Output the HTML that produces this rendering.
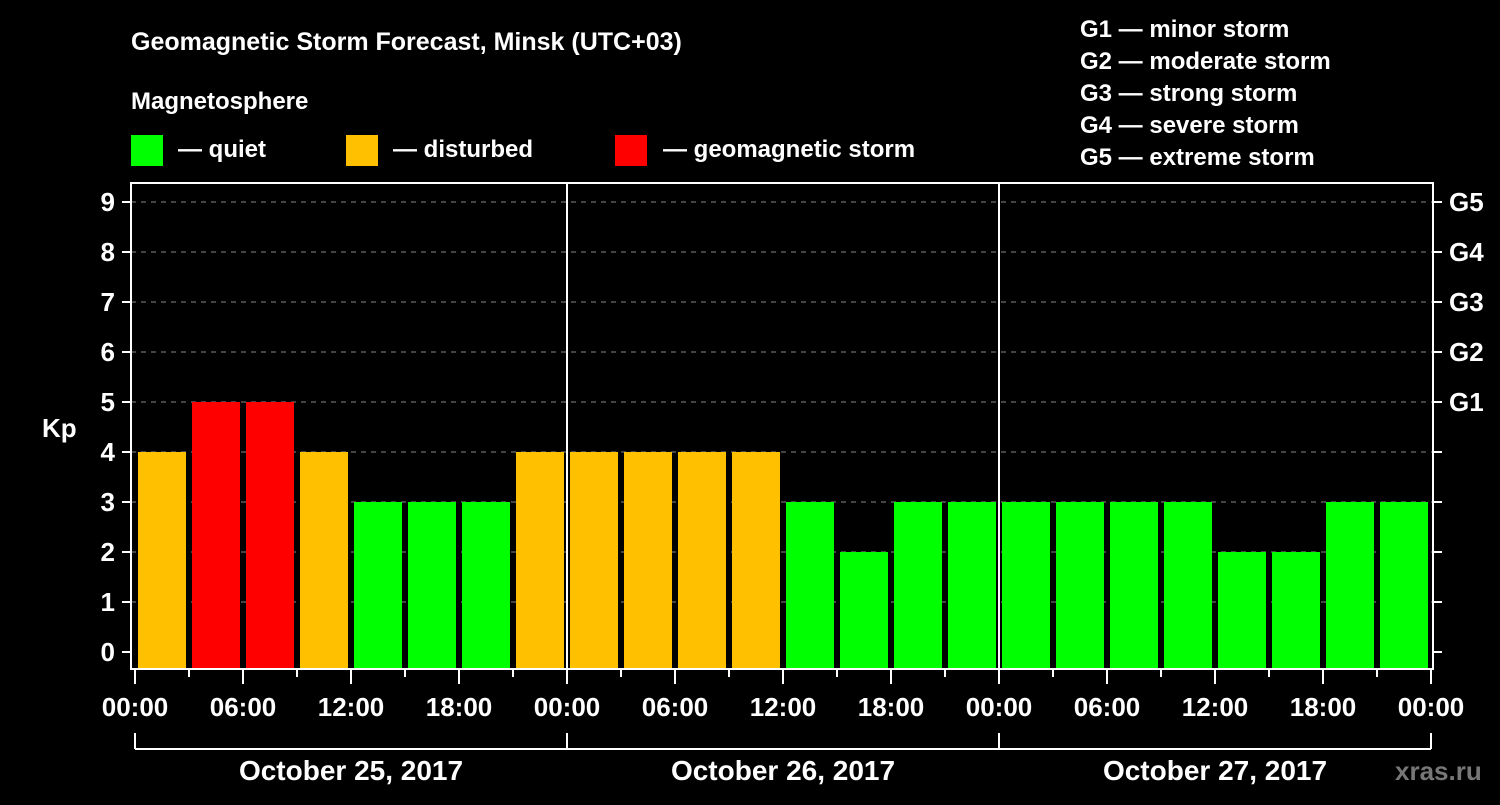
<!DOCTYPE html>
<html><head><meta charset="utf-8"><style>
body{margin:0;background:#000;width:1500px;height:800px;overflow:hidden}
svg text{font-family:"Liberation Sans",sans-serif;font-weight:bold;fill:#fff}
</style></head><body>
<svg id="c" width="1500" height="800">
<text x="131" y="50" font-size="25">Geomagnetic Storm Forecast, Minsk (UTC+03)</text>
<text x="131" y="109" font-size="24">Magnetosphere</text>
<rect x="131" y="135" width="32" height="31" fill="#00ff00"/>
<text x="178" y="157" font-size="24">— quiet</text>
<rect x="346" y="135" width="32" height="31" fill="#ffc000"/>
<text x="393" y="157" font-size="24">— disturbed</text>
<rect x="615" y="135" width="32" height="31" fill="#ff0000"/>
<text x="663" y="157" font-size="24">— geomagnetic storm</text>
<g font-size="24">
<text x="1080" y="37">G1 — minor storm</text>
<text x="1080" y="69">G2 — moderate storm</text>
<text x="1080" y="101">G3 — strong storm</text>
<text x="1080" y="133">G4 — severe storm</text>
<text x="1080" y="165">G5 — extreme storm</text>
</g>
<text x="42" y="437" font-size="26">Kp</text>
<text x="1395" y="780" font-size="26" fill="#888" style="fill:#777">xras.ru</text>
<g id="g"></g>
</svg>
<script>
const kpValues=[4,5,5,4,3,3,3,4, 4,4,4,4,3,2,3,3, 3,3,3,3,2,2,3,3];
const yTicks=[0,1,2,3,4,5,6,7,8,9];
const gLabels=["G1","G2","G3","G4","G5"];
const gLevels=[5,6,7,8,9];
const xLabels=["00:00","06:00","12:00","18:00","00:00","06:00","12:00","18:00","00:00","06:00","12:00","18:00","00:00"];
const dayLabels=["October 25, 2017","October 26, 2017","October 27, 2017"];
const NS="http://www.w3.org/2000/svg",g=document.getElementById('g');
const L=131,R=1433,T=183,B=669,X0=135,HPX=18;
const y=v=>652-50*v, x=h=>X0+h*HPX;
function mk(t,a){const e=document.createElementNS(NS,t);for(const k in a)e.setAttribute(k,a[k]);g.appendChild(e);return e;}
yTicks.forEach(v=>{
 if(v>0){const l=mk('line',{x1:L,x2:R,y1:y(v),y2:y(v),stroke:'#888','stroke-dasharray':'5,5','stroke-width':1});
 
 }
 mk('line',{x1:122,x2:L,y1:y(v),y2:y(v),stroke:'#fff','stroke-width':2});
 mk('line',{x1:R,x2:1442,y1:y(v),y2:y(v),stroke:'#fff','stroke-width':2});
 const t=mk('text',{x:115,y:y(v)+9,'font-size':26,'text-anchor':'end'});t.textContent=v;
 
 
});
gLabels.forEach((s,i)=>{const t=mk('text',{x:1449,y:y(gLevels[i])+9,'font-size':26});t.textContent=s;
 
 });
kpValues.forEach((v,i)=>{
 const c=v>=5?'#ff0000':v>=4?'#ffc000':'#00ff00';
 const r=mk('rect',{x:x(i*3)+3,width:48,y:y(v),height:668-y(v),fill:c});
 
 
});
mk('rect',{x:L,y:T,width:R-L,height:B-T,fill:'none',stroke:'#fff','stroke-width':2});
[1,2].forEach(d=>mk('line',{x1:x(d*24),x2:x(d*24),y1:T,y2:B,stroke:'#fff','stroke-width':2}));
for(let h=0;h<=72;h+=3){const big=h%6==0;mk('line',{x1:x(h),x2:x(h),y1:B,y2:big?684:677,stroke:'#fff','stroke-width':2});}
xLabels.forEach((s,i)=>{const t=mk('text',{x:x(i*6),y:716,'font-size':26,'text-anchor':'middle'});t.textContent=s;
 
 });
mk('line',{x1:x(0),x2:x(72),y1:749,y2:749,stroke:'#fff','stroke-width':2});
[0,1,2,3].forEach(d=>mk('line',{x1:x(d*24),x2:x(d*24),y1:733,y2:749,stroke:'#fff','stroke-width':2}));
dayLabels.forEach((s,i)=>{const t=mk('text',{x:x(i*24+12),y:780,'font-size':28,'text-anchor':'middle'});t.textContent=s;
 
 });
</script>
</body></html>
